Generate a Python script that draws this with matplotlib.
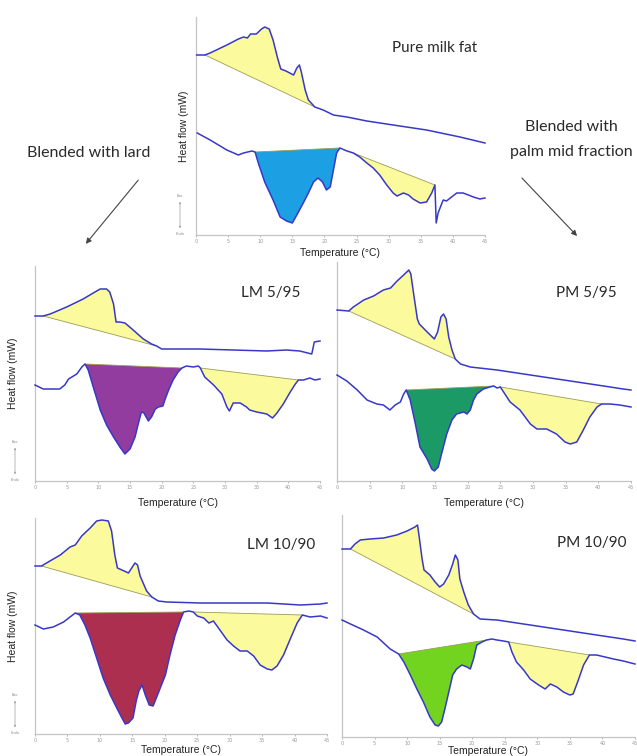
import matplotlib
matplotlib.use('Agg')
import matplotlib.pyplot as plt
from matplotlib.patches import FancyArrowPatch
import matplotlib.transforms as mtransforms

W, H = 637, 756

# --- Pure milk fat ---
pmf_top_t = [0.1, 1.4, 2.2, 4.8, 6.6, 7.4, 8.0, 8.5, 9.4, 10.2, 10.7, 11.4, 12.0, 12.7, 13.2, 14.0,
             15.2, 15.7, 16.1, 16.4, 17.0, 17.5, 18.5, 19.8, 21.4, 23.5, 26.6, 30.7, 35.9, 41.1, 45.0]
pmf_top_hf = [180, 180, 182, 190, 196, 198, 197, 201, 201, 206, 208, 206, 195, 177, 166, 164,
              160, 167, 170, 163, 145, 135, 128, 125, 120, 118, 114, 110, 105, 98, 92]
pmf_top_peaks = [(1.4, 18.5)]
pmf_bot_t = [0.2, 2.2, 4.8, 6.6, 7.4, 8.7, 9.2, 9.7, 10.7, 12.0, 13.1, 14.1, 15.0, 15.7, 16.7, 17.5,
             18.3, 19.0, 19.7, 20.3, 20.9, 21.4, 21.9, 22.4, 23.5, 24.5, 25.5, 26.6, 27.6, 28.6, 29.7,
             30.7, 31.3, 32.3, 33.1, 33.8, 34.9, 35.9, 36.7, 37.2, 37.4, 37.7, 38.3, 38.5, 39.0, 39.8,
             40.6, 41.6, 43.2, 44.2, 45.0]
pmf_bot_hf = [102, 95, 85, 80, 82, 84, 83, 72, 53, 35, 18, 14, 12, 20, 32, 42,
              53, 57, 53, 45, 48, 65, 82, 87, 84, 82, 78, 72, 67, 60, 50,
              42, 39, 42, 40, 36, 32, 33, 42, 50, 12, 22, 32, 35, 34, 38,
              42, 42, 38, 36, 37]
pmf_bot_peaks = [(9.2, 22.4), (24.5, 37.2)]

# --- LM 5/95 ---
lm5_top_t = [0, 1.3, 2.4, 5.0, 7.6, 9.2, 10.3, 11.3, 11.8, 12.4, 12.8, 13.4, 14.2, 15.5, 17.1, 18.4,
             19.2, 20.0, 21.8, 26.0, 31.3, 36.6, 39.7, 41.8, 43.7, 44.1, 45.0]
lm5_top_hf = [165, 165, 167, 174, 182, 188, 192, 192, 189, 177, 159, 159, 158, 151, 142, 137,
              135, 132, 132, 132, 131, 130, 131, 130, 127, 139, 140]
lm5_top_peaks = [(1.3, 19.2)]
lm5_bot_t = [0, 1.3, 3.9, 4.7, 5.3, 6.6, 7.4, 7.9, 8.4, 9.2, 10.3, 11.3, 12.4, 13.4, 14.2, 15.0,
             15.8, 16.3, 16.8, 17.2, 17.9, 18.4, 19.0, 19.5, 20.2, 20.5, 21.1, 21.8, 22.6, 23.2, 23.9,
             25.0, 25.8, 26.1, 26.8, 28.2, 29.5, 30.3, 30.7, 31.3, 32.4, 33.4, 33.9, 35.0, 36.6, 37.5,
             38.2, 39.2, 40.3, 41.1, 41.6, 42.4, 43.4, 44.2, 45.0]
lm5_bot_hf = [96, 92, 92, 96, 102, 107, 114, 117, 111, 94, 71, 56, 44, 34, 27, 32,
              44, 57, 69, 68, 60, 64, 72, 74, 75, 81, 91, 101, 109, 113, 115,
              114, 115, 113, 104, 96, 87, 74, 70, 78, 78, 74, 71, 69, 67, 63,
              68, 77, 89, 97, 101, 101, 103, 101, 102]
lm5_bot_peaks = [(7.9, 23.2), (26.1, 41.6)]

# --- PM 5/95 ---
pm5_top_t = [0, 1.8, 2.5, 4.1, 5.6, 7.1, 8.2, 9.2, 10.2, 11.0, 11.3, 11.8, 12.3, 12.6, 13.8, 14.9,
             15.4, 15.9, 16.3, 16.7, 17.1, 17.6, 18.1, 18.9, 20.4, 24.5, 29.6, 34.7, 39.8, 43.8, 45.0]
pm5_top_hf = [171, 170, 174, 181, 185, 191, 193, 200, 206, 211, 207, 184, 162, 157, 149, 142,
              149, 164, 167, 162, 144, 131, 122, 117, 114, 111, 106, 101, 96, 92, 91]
pm5_top_peaks = [(1.8, 18.1)]
pm5_bot_t = [0, 1.5, 3.1, 4.6, 6.1, 7.1, 8.1, 8.9, 9.7, 10.2, 10.6, 11.2, 12.0, 12.7, 13.8, 14.5,
             14.9, 15.5, 16.0, 16.8, 17.6, 18.3, 19.4, 19.9, 20.4, 20.9, 21.4, 22.4, 23.4, 24.0, 24.5,
             25.0, 25.5, 26.5, 28.0, 29.6, 30.6, 32.1, 33.6, 34.9, 35.7, 36.7, 37.7, 38.7, 39.8, 40.5,
             41.8, 43.3, 45.0]
pm5_bot_hf = [106, 100, 91, 81, 77, 76, 71, 76, 79, 87, 91, 81, 57, 34, 22, 12,
              10, 14, 27, 47, 61, 67, 69, 67, 71, 81, 87, 92, 94, 95, 93,
              94, 89, 79, 71, 57, 52, 52, 47, 39, 37, 39, 51, 64, 74, 77,
              77, 76, 74]
pm5_bot_peaks = [(10.6, 24.0), (25.0, 40.5)]

# --- LM 10/90 ---
lm10_top_t = [0, 1.0, 2.3, 3.9, 5.4, 6.2, 7.2, 8.5, 9.5, 10.3, 11.3, 11.8, 12.3, 12.7, 13.4, 14.4,
              14.9, 15.4, 15.8, 16.2, 17.2, 18.0, 19.0, 20.3, 25.5, 30.6, 35.8, 40.9, 44.0, 45.0]
lm10_top_hf = [168, 168, 173, 179, 187, 189, 198, 206, 213, 214, 213, 203, 179, 166, 164, 161,
               166, 171, 169, 158, 143, 137, 133, 132, 131, 131, 131, 129, 130, 131]
lm10_top_peaks = [(1.0, 18.0)]
lm10_bot_t = [0, 1.3, 2.8, 4.4, 5.4, 6.2, 6.9, 7.7, 8.5, 9.5, 10.5, 11.6, 12.6, 13.4, 13.9, 14.4,
              15.1, 15.6, 16.0, 16.5, 17.0, 17.6, 18.2, 18.7, 19.3, 20.1, 20.8, 21.6, 22.4, 22.9, 23.7,
              24.4, 25.0, 26.0, 26.8, 27.5, 28.5, 29.6, 30.6, 31.6, 32.7, 33.7, 34.7, 35.8, 36.5, 37.3,
              38.3, 39.4, 40.4, 41.2, 42.4, 44.0, 45.0]
lm10_bot_hf = [109, 105, 107, 112, 117, 121, 119, 109, 96, 76, 56, 39, 26, 16, 10, 11,
               16, 33, 43, 49, 39, 29, 28, 36, 46, 59, 79, 99, 114, 122, 123,
               122, 118, 116, 111, 113, 104, 94, 88, 83, 83, 78, 69, 65, 64, 68,
               79, 96, 111, 119, 117, 118, 116]
lm10_bot_peaks = [(6.2, 22.9), (24.4, 41.2)]

# --- PM 10/90 ---
pm10_top_t = [0, 1.3, 2.0, 2.8, 4.3, 6.4, 8.4, 10.0, 11.2, 11.6, 11.9, 12.3, 12.6, 13.5, 14.3, 15.0,
              15.6, 16.4, 17.0, 17.4, 17.8, 18.1, 18.7, 19.4, 20.2, 21.2, 23.8, 28.9, 34.0, 39.1, 43.2, 45.0]
pm10_top_hf = [188, 188, 193, 197, 198, 199, 202, 206, 210, 212, 198, 178, 167, 162, 155, 150,
               153, 162, 173, 182, 177, 158, 145, 132, 123, 118, 117, 112, 107, 102, 98, 96]
pm10_top_peaks = [(1.3, 20.2)]
pm10_bot_t = [0, 1.3, 3.3, 5.4, 7.4, 8.7, 9.5, 10.5, 11.5, 12.5, 13.5, 14.3, 14.8, 15.3, 15.8, 16.4,
              17.0, 17.6, 18.4, 19.2, 19.7, 20.2, 20.7, 21.5, 22.2, 23.0, 23.8, 24.8, 25.6, 26.1, 26.8,
              27.9, 28.9, 30.2, 31.2, 32.0, 33.0, 34.0, 35.0, 35.5, 36.3, 37.1, 38.0, 39.1, 41.7, 43.2, 45.0]
pm10_bot_hf = [117, 113, 107, 100, 88, 83, 75, 62, 48, 35, 20, 12, 11, 15, 28, 45,
               62, 68, 72, 70, 68, 78, 92, 95, 97, 98, 97, 96, 95, 85, 75,
               67, 58, 52, 48, 53, 50, 45, 42, 43, 57, 72, 82, 82, 78, 76, 73]
pm10_bot_peaks = [(8.7, 22.2), (25.6, 38.0)]

x_ticks = [0, 5, 10, 15, 20, 25, 30, 35, 40, 45]

LINE = '#3838c8'
YELLOW = '#fbfb9e'
BASE = '#9c9c55'
SPINE = '#c4c4c4'
TEXT = '#2a2a2a'


def add_px_axes(fig, left, top, right, bottom):
    """Axes placed by pixel edges of the picture."""
    return fig.add_axes([left / W, 1 - bottom / H, (right - left) / W, (bottom - top) / H])


def fill_peak(ax, t, hf, t1, t2, color):
    xs = [x for x in t if t1 <= x <= t2]
    ys = [y for x, y in zip(t, hf) if t1 <= x <= t2]
    ax.fill(xs, ys, color=color, lw=0, zorder=1)
    ax.plot([xs[0], xs[-1]], [ys[0], ys[-1]], color=BASE, lw=0.6, zorder=2)


def draw_panel(fig, box, top, bot, colors, ylabel=None, exo=None, xlab_pad=13):
    left, topy, right, bottom = box
    ax = add_px_axes(fig, left, topy, right, bottom)
    ax.set_xlim(0, 45)
    ax.set_ylim(0, bottom - topy)
    ax.patch.set_alpha(0)

    # peaks first, curves on top
    t, hf, peaks = top
    for t1, t2 in peaks:
        fill_peak(ax, t, hf, t1, t2, YELLOW)
    ax.plot(t, hf, color=LINE, lw=1.1, zorder=3, clip_on=False)
    t, hf, peaks = bot
    for (t1, t2), c in zip(peaks, colors):
        fill_peak(ax, t, hf, t1, t2, c)
    ax.plot(t, hf, color=LINE, lw=1.1, zorder=3, clip_on=False)

    for s in ['top', 'right']:
        ax.spines[s].set_visible(False)
    for s in ['left', 'bottom']:
        ax.spines[s].set_color(SPINE)
        ax.spines[s].set_linewidth(0.9)
    ax.set_yticks([])
    ax.set_xticks(x_ticks)
    ax.tick_params(axis='x', labelsize=3.5, colors='#999999', length=1.5, width=0.5, pad=1.5)

    wpx = right - left
    ax.set_xlabel('Temperature (°C)', fontsize=7.5, family='Liberation Sans', color='#222222')
    ax.xaxis.set_label_coords(0.5, -xlab_pad / (bottom - topy))
    if ylabel:
        ax.set_ylabel('Heat flow (mW)', fontsize=7.5, family='Liberation Sans', color='#222222')
        ax.yaxis.set_label_coords(-ylabel / wpx, 0.5)
    if exo:
        # exo / endo marker
        tr = mtransforms.blended_transform_factory(ax.transAxes, ax.transData)
        xo = -exo / wpx
        ax.text(xo, 39, 'Exo', transform=tr, fontsize=2.5, color='#888888', ha='center', va='center')
        ax.text(xo, 1, 'Endo', transform=tr, fontsize=2.5, color='#888888', ha='center', va='center')
        ax.annotate('', xy=(xo, 36), xytext=(xo, 4), xycoords=tr, textcoords=tr,
                    arrowprops=dict(arrowstyle='<->', color='#888888', lw=0.4, mutation_scale=3))
    return ax


def fig_text(fig, x, y, s, size, **kw):
    fig.text(x / W, 1 - y / H, s, fontsize=size, family='Lato', color=TEXT, va='center', **kw)


def fig_arrow(fig, x1, y1, x2, y2):
    arr = FancyArrowPatch((x1 / W, 1 - y1 / H), (x2 / W, 1 - y2 / H), transform=fig.transFigure,
                          arrowstyle='-|>', mutation_scale=8, color='#444444', lw=0.8)
    fig.add_artist(arr)


def main():
    fig = plt.figure(figsize=(W / 100, H / 100), dpi=100)

    draw_panel(fig, (196, 17, 485, 235),
               (pmf_top_t, pmf_top_hf, pmf_top_peaks), (pmf_bot_t, pmf_bot_hf, pmf_bot_peaks),
               ['#1c9fe3', YELLOW], ylabel=7, exo=16, xlab_pad=13)
    draw_panel(fig, (35, 266, 320, 481),
               (lm5_top_t, lm5_top_hf, lm5_top_peaks), (lm5_bot_t, lm5_bot_hf, lm5_bot_peaks),
               ['#913c9e', YELLOW], ylabel=17, exo=20, xlab_pad=17)
    draw_panel(fig, (337, 262, 631, 481),
               (pm5_top_t, pm5_top_hf, pm5_top_peaks), (pm5_bot_t, pm5_bot_hf, pm5_bot_peaks),
               ['#1b9a66', YELLOW], xlab_pad=17)
    draw_panel(fig, (35, 518, 327, 734),
               (lm10_top_t, lm10_top_hf, lm10_top_peaks), (lm10_bot_t, lm10_bot_hf, lm10_bot_peaks),
               ['#ad2f50', YELLOW], ylabel=17, exo=20, xlab_pad=11)
    draw_panel(fig, (342, 515, 635, 737),
               (pm10_top_t, pm10_top_hf, pm10_top_peaks), (pm10_bot_t, pm10_bot_hf, pm10_bot_peaks),
               ['#72d41e', YELLOW], xlab_pad=9)

    # panel names
    fig_text(fig, 392, 48, 'Pure milk fat', 11)
    fig_text(fig, 241, 293, 'LM 5/95', 11)
    fig_text(fig, 556, 293, 'PM 5/95', 11)
    fig_text(fig, 247, 545, 'LM 10/90', 11)
    fig_text(fig, 557, 543, 'PM 10/90', 11)

    # side captions and arrows
    fig_text(fig, 89, 153, 'Blended with lard', 11.5, ha='center')
    fig_text(fig, 571, 127, 'Blended with', 11.5, ha='center')
    fig_text(fig, 571, 152, 'palm mid fraction', 11.5, ha='center')
    fig_arrow(fig, 140, 178, 84, 246)
    fig_arrow(fig, 520, 176, 579, 238)

    fig.savefig('out.png', dpi=100)


if __name__ == '__main__':
    main()
